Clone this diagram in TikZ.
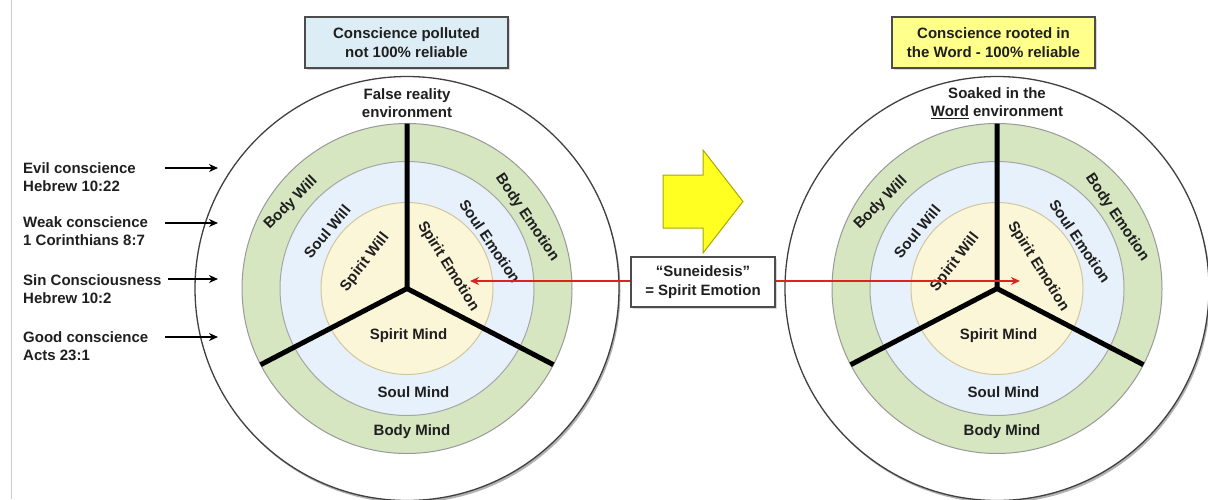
\documentclass[tikz,border=0pt]{standalone}
\usepackage{fontspec}
\setmainfont{Liberation Sans}
\usetikzlibrary{arrows.meta,shadows}
\definecolor{ringgreen}{HTML}{D6E6C0}
\definecolor{ringblue}{HTML}{E7F1FB}
\definecolor{ringcream}{HTML}{FBF6D8}
\definecolor{creamedge}{HTML}{D2C69E}
\definecolor{boxblue}{HTML}{DDEDF5}
\definecolor{boxyellow}{HTML}{FFFF8C}
\definecolor{arrowyellow}{HTML}{FFFF22}
\definecolor{arrowedge}{HTML}{A8A800}
\definecolor{redline}{HTML}{DD2222}
\begin{document}
\begin{tikzpicture}[x=1pt,y=-1pt,
  lbl/.style={font=\bfseries\fontsize{15}{18.5}\selectfont, text=black!88, inner sep=0pt, align=center},
  sidelbl/.style={font=\bfseries\fontsize{15}{18}\selectfont, text=black!88, inner sep=0pt, align=left, anchor=west},
  infobox/.style={draw=black!70, line width=1.2pt, inner sep=0pt, align=center,
    font=\bfseries\fontsize{15}{19}\selectfont, text=black!88,
    drop shadow={shadow xshift=2pt, shadow yshift=-2pt, fill=black!30}},
  spoke/.style={line width=5pt, draw=black},
  redarrow/.style={draw=redline, line width=2pt, -{Stealth[length=9pt,width=8pt]}},
  blkarrow/.style={draw=black, line width=2pt, -{Stealth[length=9pt,width=8pt]}},
]
\useasboundingbox (0,0) rectangle (1208,499);
\draw[black!20, line width=1pt] (11,0) -- (11,499);

% two circles
\foreach \cx/\s/\envtext in {407/L/{False reality\\environment}, 997/R/{Soaked in the\\\underline{Word} environment}}{
  \coordinate (c\s) at (\cx,288.5);
  \fill[black!30] (\cx+1.5,291) circle[radius=212];
  \draw[fill=white, draw=black!75, line width=1.3pt] (c\s) circle[radius=212];
  \draw[fill=ringgreen, draw=black!40, line width=1pt] (c\s) circle[radius=165];
  \draw[fill=ringblue, draw=black!35, line width=1pt] (c\s) circle[radius=127];
  \draw[fill=ringcream, draw=creamedge, line width=1pt] (c\s) circle[radius=86];
  \coordinate (up\s) at (\cx,123.5);
  \coordinate (ll\s) at (\cx-146.4,364.7);
  \coordinate (lr\s) at (\cx+146.4,364.7);
  \draw[spoke] (up\s) -- (c\s) -- (ll\s);
  \draw[spoke] (c\s) -- (lr\s);
  \fill (c\s) circle[radius=2.5];
  \node[lbl] (env\s) at (\cx,103) {\envtext};
  \node[lbl, rotate=45] (bw\s) at (\cx-116,203) {Body Will};
  \node[lbl, rotate=50] (sw\s) at (\cx-80,231.5) {Soul Will};
  \node[lbl, rotate=52] (pw\s) at (\cx-42,262.5) {Spirit Will};
  \node[lbl, rotate=-56] (be\s) at (\cx+120,217.5) {Body Emotion};
  \node[lbl, rotate=-56] (se\s) at (\cx+83,241.5) {Soul Emotion};
  \node[lbl, rotate=-58] (pe\s) at (\cx+41,266.5) {Spirit Emotion};
  \node[lbl] (pm\s) at (\cx+1.5,335.5) {Spirit Mind};
  \node[lbl] (sm\s) at (\cx+6.5,392) {Soul Mind};
  \node[lbl] (bm\s) at (\cx+5,432) {Body Mind};
}

% top boxes
\node[infobox, fill=boxblue, minimum width=203pt, minimum height=51pt] (boxL) at (406.5,42.5)
  {Conscience polluted\\not 100\% reliable};
\node[infobox, fill=boxyellow, minimum width=203pt, minimum height=51pt] (boxR) at (993.5,42.5)
  {Conscience rooted in\\the Word - 100\% reliable};

% yellow arrow
\draw[fill=arrowyellow, draw=arrowedge, line width=1pt, line join=miter]
  (663,175) -- (703,175) -- (703,150) -- (743,201.5) -- (703,253) -- (703,228) -- (663,228) -- cycle;

% Suneidesis box and red arrows
\coordinate (tipL) at (470,281);
\coordinate (tipR) at (1020,281);
\node[infobox, fill=white, minimum width=144pt, minimum height=50pt] (sun) at (703,282)
  {``Suneidesis''\\= Spirit Emotion};
\draw[redarrow] (sun.west |- tipL) -- (tipL);
\draw[redarrow] (sun.east |- tipR) -- (tipR);

% left side labels
\node[sidelbl] (evil) at (23,177.5) {Evil conscience\\Hebrew 10:22};
\node[sidelbl] (weak) at (23,231.5) {Weak conscience\\1 Corinthians 8:7};
\node[sidelbl] (sin) at (23,289) {Sin Consciousness\\Hebrew 10:2};
\node[sidelbl] (good) at (23,346) {Good conscience\\Acts 23:1};
\coordinate (evilA) at (165,168);  \coordinate (evilB) at (218,168);
\coordinate (weakA) at (165,223);  \coordinate (weakB) at (218,223);
\coordinate (sinA) at (168,279);   \coordinate (sinB) at (218,279);
\coordinate (goodA) at (165,337);  \coordinate (goodB) at (218,337);
\draw[blkarrow] (evilA) -- (evilB);
\draw[blkarrow] (weakA) -- (weakB);
\draw[blkarrow] (sinA) -- (sinB);
\draw[blkarrow] (goodA) -- (goodB);
\end{tikzpicture}
\end{document}
